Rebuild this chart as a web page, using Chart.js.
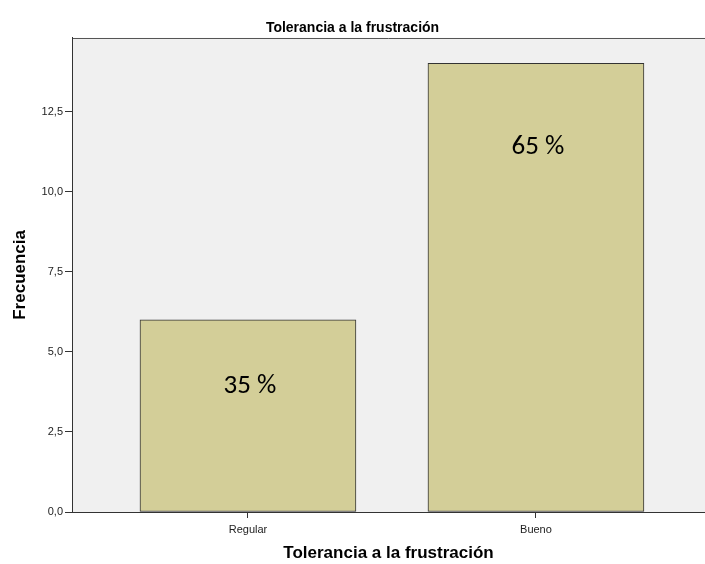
<!DOCTYPE html>
<html>
<head>
<meta charset="utf-8">
<script src="https://cdn.jsdelivr.net/npm/chart.js@4.4.0/dist/chart.umd.min.js"></script>
<style>
  html, body { margin: 0; padding: 0; background: #fff; overflow: hidden; }
  #wrap { width: 705px; height: 564px; }
</style>
</head>
<body>
<div id="wrap"><canvas id="barChart" width="705" height="564"></canvas></div>
<script>
// datos
const categorias = ['Regular', 'Bueno'];
const frecuencias = [6, 14];
const porcentajes = ['35 %', '65 %'];
const yTicks = [0, 2.5, 5, 7.5, 10, 12.5];

const ctx = document.getElementById('barChart').getContext('2d');

// fondo gris del area y borde superior
const fondoPlot = {
    id: 'fondoPlot',
    beforeDraw(chart) {
        const a = chart.chartArea;
        const c = chart.ctx;
        c.save();
        c.fillStyle = '#f0f0f0';
        c.fillRect(a.left, a.top, a.right - a.left, a.bottom - a.top);
        c.strokeStyle = '#555';
        c.lineWidth = 1;
        c.beginPath();
        c.moveTo(a.left, Math.round(a.top) + 0.5);
        c.lineTo(a.right, Math.round(a.top) + 0.5);
        c.stroke();
        c.restore();
    }
};

// etiquetas de porcentaje dentro de las barras
const etiquetas = {
    id: 'etiquetas',
    afterDatasetsDraw(chart) {
        const c = chart.ctx;
        const meta = chart.getDatasetMeta(0);
        const desp = [66, 84];
        c.save();
        c.font = '27px Carlito, "Open Sans", sans-serif';
        c.fillStyle = '#000';
        c.textAlign = 'center';
        c.textBaseline = 'middle';
        meta.data.forEach((bar, i) => {
            c.fillText(porcentajes[i], bar.x + 2, bar.y + desp[i]);
        });
        c.restore();
    }
};

new Chart(ctx, {
    type: 'bar',
    data: {
        datasets: [{
            label: 'Frecuencia',
            data: frecuencias.map((v, i) => ({ x: i, y: v })),
            backgroundColor: '#d3ce98',
            borderColor: '#333',
            borderWidth: 1,
            barThickness: 216,
            borderSkipped: false,
        }]
    },
    options: {
        responsive: false,
        animation: false,
        layout: { padding: 0 },
        scales: {
            x: {
                type: 'linear',
                offset: false,
                min: -0.611,
                max: 1.587,
                afterBuildTicks(scale) {
                    scale.ticks = categorias.map((c, i) => ({ value: i }));
                },
                afterFit(scale) { scale.height = 52; },
                ticks: {
                    color: '#222',
                    font: { family: '"Liberation Sans", sans-serif', size: 11 },
                    padding: 5,
                    maxRotation: 0,
                    callback: (v) => categorias[v],
                },
                grid: {
                    offset: false,
                    drawOnChartArea: false,
                    tickLength: 6,
                    color: '#333',
                },
                border: { color: '#333', width: 1 },
                title: {
                    display: true,
                    text: 'Tolerancia a la frustración',
                    color: '#000',
                    font: { family: '"Liberation Sans", sans-serif', size: 17, weight: 'bold' },
                    padding: { top: -1, bottom: 0 },
                },
            },
            y: {
                min: 0,
                max: 14.8,
                afterBuildTicks(scale) {
                    scale.ticks = yTicks.map(v => ({ value: v }));
                },
                afterFit(scale) { scale.width = 72; },
                ticks: {
                    color: '#222',
                    font: { family: '"Liberation Sans", sans-serif', size: 11 },
                    padding: 2,
                    callback: (v) => v.toFixed(1).replace('.', ','),
                },
                grid: {
                    drawOnChartArea: false,
                    tickLength: 7,
                    color: '#333',
                },
                border: { color: '#333', width: 1 },
                title: {
                    display: true,
                    text: 'Frecuencia',
                    color: '#000',
                    font: { family: '"Liberation Sans", sans-serif', size: 17, weight: 'bold' },
                    padding: { top: 10, bottom: 0 },
                },
            },
        },
        plugins: {
            legend: { display: false },
            tooltip: { enabled: false },
            title: {
                display: true,
                text: 'Tolerancia a la frustración',
                color: '#000',
                font: { family: '"Liberation Sans", sans-serif', size: 14, weight: 'bold' },
                padding: { top: 20, bottom: 1 },
            },
        },
    },
    plugins: [fondoPlot, etiquetas],
});
</script>
</body>
</html>
